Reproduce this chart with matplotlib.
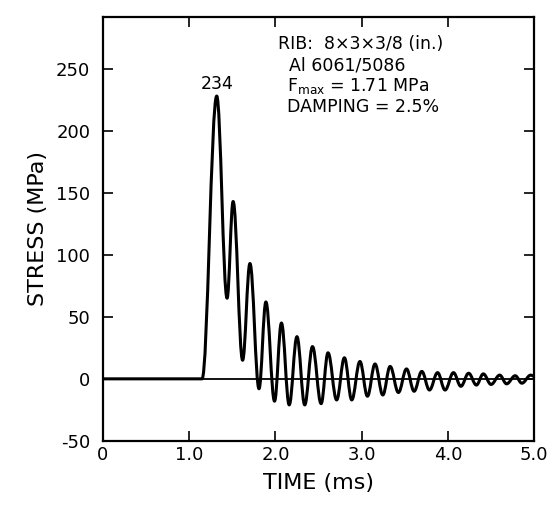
import numpy as np
import matplotlib
matplotlib.use("Agg")
import matplotlib.pyplot as plt
from matplotlib.path import Path
from matplotlib.patches import PathPatch

plt.rcParams['axes.unicode_minus'] = False

# turning points of the stress trace (time in ms, stress in MPa)
t_ext = [0.0, 1.15, 1.32, 1.44, 1.51, 1.62, 1.705, 1.81, 1.89, 1.99, 2.07, 2.16,
         2.25, 2.34, 2.43, 2.53, 2.61, 2.71, 2.80, 2.885, 2.98, 3.067, 3.155,
         3.245, 3.33, 3.426, 3.52, 3.608, 3.697, 3.786, 3.88, 3.967, 4.064,
         4.15, 4.24, 4.33, 4.41, 4.50, 4.60, 4.68, 4.78, 4.857, 4.96, 5.0]
s_ext = [0, 0, 228, 65, 143, 15, 93, -8, 62, -18, 45, -21,
         34, -21, 26, -20, 21, -17, 17, -17, 14, -14, 12,
         -13, 10, -11, 8, -10, 6, -9, 5, -9, 5,
         -6, 4.5, -5, 4, -4.5, 3, -4, 2.5, -3.5, 3, 2]

peak_label = "234"
info_lines = ["RIB:  8×3×3/8 (in.)", "Al 6061/5086",
              r"F$_{\rm max}$ = 1.71 MPa", "DAMPING = 2.5%"]
xticks = [0, 1, 2, 3, 4, 5]
xticklabels = ["0", "1.0", "2.0", "3.0", "4.0", "5.0"]
yticks = [-50, 0, 50, 100, 150, 200, 250]

fig = plt.figure(figsize=(5.53, 5.05), dpi=100)
ax = fig.add_axes([0.186, 0.127, 0.78, 0.84])

# smooth trace: straight lead-in, then cubic segments with flat tangents at each turning point
verts = [(t_ext[0], s_ext[0]), (t_ext[1], s_ext[1])]
codes = [Path.MOVETO, Path.LINETO]
for i in range(1, len(t_ext) - 1):
    t0, t1 = t_ext[i], t_ext[i + 1]
    d = t1 - t0
    verts += [(t0 + 0.38 * d, s_ext[i]), (t1 - 0.38 * d, s_ext[i + 1]), (t1, s_ext[i + 1])]
    codes += [Path.CURVE4] * 3
ax.add_patch(PathPatch(Path(verts, codes), fill=False, lw=2.2, ec="black",
                       transform=ax.transData, joinstyle="round", capstyle="round"))
ax.axhline(0, color="black", lw=1.3)

ax.set_xlim(0, 5)
ax.set_ylim(-50, 292)
ax.set_xticks(xticks)
ax.set_xticklabels(xticklabels, fontsize=13)
ax.set_yticks(yticks)
ax.set_yticklabels([str(v) for v in yticks], fontsize=13)
ax.tick_params(axis="x", direction="in", length=7, width=1.2, pad=4,
               top=True, bottom=True)
ax.tick_params(axis="y", direction="in", length=7, width=1.2, pad=9,
               left=True, right=True)
for sp in ax.spines.values():
    sp.set_linewidth(1.6)

ax.set_xlabel("TIME (ms)", fontsize=16, labelpad=6)
ax.set_ylabel("STRESS (MPa)", fontsize=16, labelpad=6)

ax.text(1.33, 238, peak_label, ha="center", va="center", fontsize=12.5)
ys = [270, 253, 236, 219]
xs = [2.03, 2.16, 2.13, 2.13]
for x, y, s in zip(xs, ys, info_lines):
    ax.text(x, y, s, fontsize=12.5, ha="left", va="center")

fig.savefig("out.png", dpi=100)
